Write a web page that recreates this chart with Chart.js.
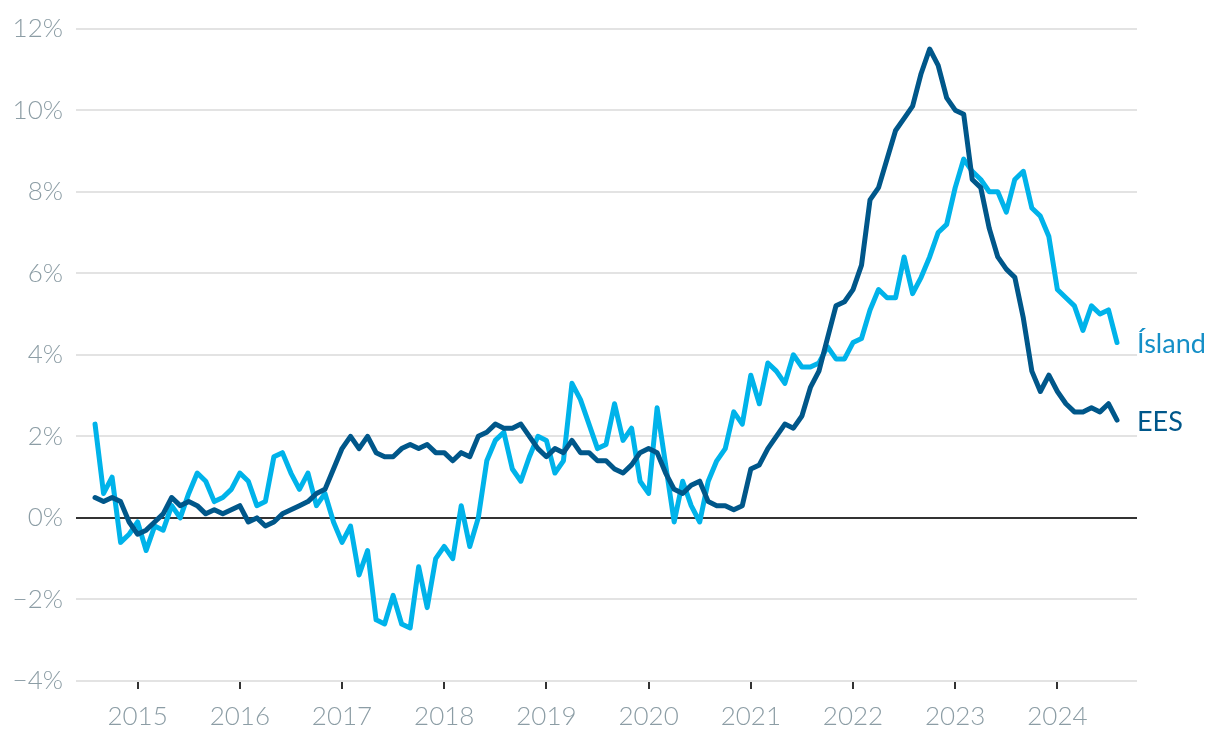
<!DOCTYPE html>
<html>

<head>
    <title>Verðbólga</title>
    <meta charset="utf-8">
    <script src="https://cdn.jsdelivr.net/npm/chart.js"></script>
    <style>
        html, body { margin: 0; padding: 0; background: #fff; }
        #wrap { width: 1220px; height: 746px; }
    </style>
</head>

<body>
    <div id="wrap"><canvas id="myChart"></canvas></div>
    <script>
        // monthly, Aug 2014 - Aug 2024
        const startYear = 2014;
        const startMonth = 8;
        const yearTicks = [2015, 2016, 2017, 2018, 2019, 2020, 2021, 2022, 2023, 2024];
        const yTicks = [-4, -2, 0, 2, 4, 6, 8, 10, 12];

        const island = [
            2.3, 0.6, 1.0, -0.6, -0.4,
            -0.1, -0.8, -0.2, -0.3, 0.3, 0.0, 0.6, 1.1, 0.9, 0.4, 0.5, 0.7,
            1.1, 0.9, 0.3, 0.4, 1.5, 1.6, 1.1, 0.7, 1.1, 0.3, 0.6, -0.1,
            -0.6, -0.2, -1.4, -0.8, -2.5, -2.6, -1.9, -2.6, -2.7, -1.2, -2.2, -1.0,
            -0.7, -1.0, 0.3, -0.7, 0.0, 1.4, 1.9, 2.1, 1.2, 0.9, 1.5, 2.0,
            1.9, 1.1, 1.4, 3.3, 2.9, 2.3, 1.7, 1.8, 2.8, 1.9, 2.2, 0.9,
            0.6, 2.7, 1.3, -0.1, 0.9, 0.3, -0.1, 0.9, 1.4, 1.7, 2.6, 2.3,
            3.5, 2.8, 3.8, 3.6, 3.3, 4.0, 3.7, 3.7, 3.8, 4.2, 3.9, 3.9,
            4.3, 4.4, 5.1, 5.6, 5.4, 5.4, 6.4, 5.5, 5.9, 6.4, 7.0, 7.2,
            8.1, 8.8, 8.5, 8.3, 8.0, 8.0, 7.5, 8.3, 8.5, 7.6, 7.4, 6.9,
            5.6, 5.4, 5.2, 4.6, 5.2, 5.0, 5.1, 4.3
        ];

        const ees = [
            0.5, 0.4, 0.5, 0.4, -0.1,
            -0.4, -0.3, -0.1, 0.1, 0.5, 0.3, 0.4, 0.3, 0.1, 0.2, 0.1, 0.2,
            0.3, -0.1, 0.0, -0.2, -0.1, 0.1, 0.2, 0.3, 0.4, 0.6, 0.7, 1.2,
            1.7, 2.0, 1.7, 2.0, 1.6, 1.5, 1.5, 1.7, 1.8, 1.7, 1.8, 1.6,
            1.6, 1.4, 1.6, 1.5, 2.0, 2.1, 2.3, 2.2, 2.2, 2.3, 2.0, 1.7,
            1.5, 1.7, 1.6, 1.9, 1.6, 1.6, 1.4, 1.4, 1.2, 1.1, 1.3, 1.6,
            1.7, 1.6, 1.1, 0.7, 0.6, 0.8, 0.9, 0.4, 0.3, 0.3, 0.2, 0.3,
            1.2, 1.3, 1.7, 2.0, 2.3, 2.2, 2.5, 3.2, 3.6, 4.4, 5.2, 5.3,
            5.6, 6.2, 7.8, 8.1, 8.8, 9.5, 9.8, 10.1, 10.9, 11.5, 11.1, 10.3,
            10.0, 9.9, 8.3, 8.1, 7.1, 6.4, 6.1, 5.9, 4.9, 3.6, 3.1, 3.5,
            3.1, 2.8, 2.6, 2.6, 2.7, 2.6, 2.8, 2.4
        ];

        function toPoints(arr) {
            return arr.map((v, i) => ({ x: startYear + (startMonth - 1 + i) / 12, y: v }));
        }

        const endLabels = {
            id: 'endLabels',
            afterDatasetsDraw(chart) {
                const ctx = chart.ctx;
                ctx.save();
                ctx.font = '400 27px Lato';
                ctx.textBaseline = 'middle';
                ctx.textAlign = 'left';
                chart.data.datasets.forEach((ds, i) => {
                    const meta = chart.getDatasetMeta(i);
                    const pt = meta.data[meta.data.length - 1];
                    ctx.fillStyle = ds.labelColor;
                    ctx.fillText(ds.label, pt.x + 20, pt.y + 2);
                });
                ctx.restore();
            }
        };

        const data = {
            datasets: [{
                label: 'EES',
                data: toPoints(ees),
                borderColor: '#00578a',
                labelColor: '#00578a',
                borderWidth: 5,
                pointRadius: 0,
                tension: 0,
                borderJoinStyle: 'round',
                borderCapStyle: 'round'
            }, {
                label: 'Ísland',
                data: toPoints(island),
                borderColor: '#00b3ea',
                labelColor: '#158fc7',
                borderWidth: 5,
                pointRadius: 0,
                tension: 0,
                borderJoinStyle: 'round',
                borderCapStyle: 'round'
            }]
        };

        const config = {
            type: 'line',
            data: data,
            plugins: [endLabels],
            options: {
                responsive: false,
                animation: false,
                layout: {
                    padding: { top: 17, right: 83, bottom: 0, left: 0 }
                },
                plugins: {
                    legend: { display: false },
                    tooltip: { enabled: false }
                },
                scales: {
                    x: {
                        type: 'linear',
                        min: 2014.397,
                        max: 2024.779,
                        afterBuildTicks: (scale) => {
                            scale.ticks = yearTicks.map(v => ({ value: v }));
                        },
                        afterFit: (scale) => { scale.height = 65; },
                        grid: {
                            drawOnChartArea: false,
                            drawTicks: true,
                            tickLength: 8,
                            color: '#333333',
                            lineWidth: 2
                        },
                        border: { display: false },
                        ticks: {
                            callback: (v) => String(v),
                            color: '#8c9da5',
                            font: { family: 'Lato', size: 26, weight: '300' },
                            padding: 12,
                            maxRotation: 0,
                            autoSkip: false
                        }
                    },
                    y: {
                        min: -4,
                        max: 12,
                        afterBuildTicks: (scale) => {
                            scale.ticks = yTicks.map(v => ({ value: v }));
                        },
                        afterFit: (scale) => { scale.width = 76; },
                        grid: {
                            drawTicks: false,
                            color: (c) => c.tick && c.tick.value === 0 ? '#333333' : '#e3e3e3',
                            lineWidth: 2
                        },
                        border: { display: false },
                        ticks: {
                            callback: (v) => (v < 0 ? '\u2212' + Math.abs(v) : v) + '%',
                            color: '#8c9da5',
                            font: { family: 'Lato', size: 26, weight: '300' },
                            padding: 13
                        }
                    }
                }
            }
        };

        const canvas = document.getElementById('myChart');
        canvas.width = 1220;
        canvas.height = 746;
        var myChart = new Chart(canvas, config);
    </script>
</body>

</html>
